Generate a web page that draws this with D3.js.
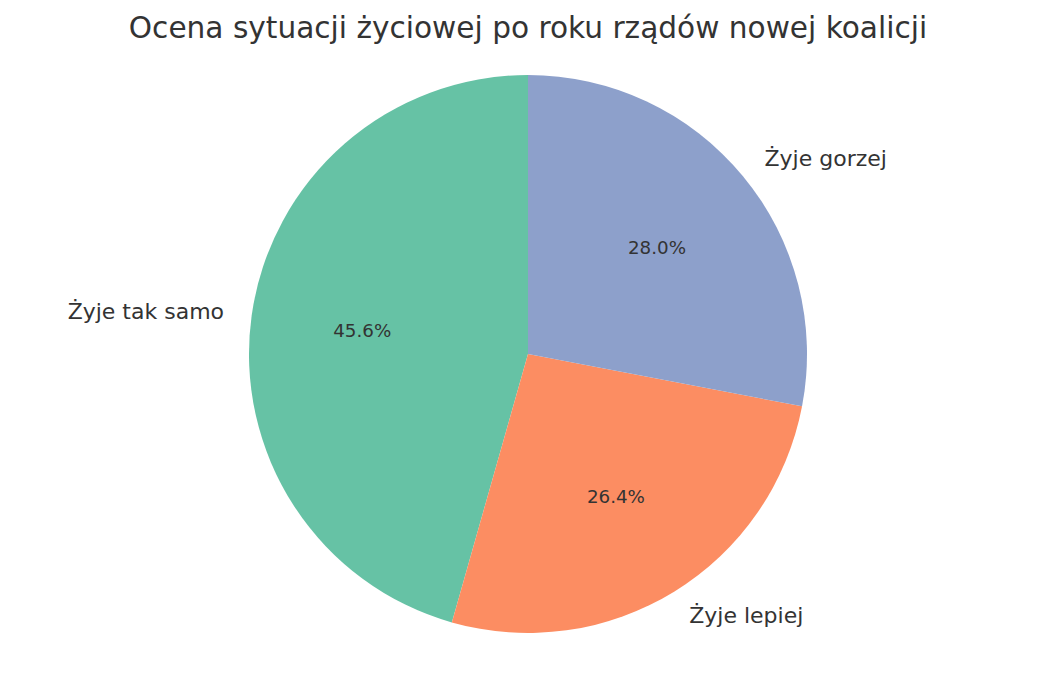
<!DOCTYPE html>
<html lang="pl">
<head>
  <meta charset="UTF-8">
  <title>Ocena sytuacji życiowej</title>
  <script src="https://d3js.org/d3.v7.min.js"></script>
  <style>
    body { margin: 0; background: white; }
    svg { display: block; }
    text { font-family: "DejaVu Sans", sans-serif; fill: #333333; }
  </style>
</head>
<body>
<script>
  // dane z wykresu
  const categories = ["Żyje tak samo", "Żyje lepiej", "Żyje gorzej"];
  const values = [45.6, 26.4, 28.0];
  const colors = ["#66c2a5", "#fc8d62", "#8da0cb"];

  const width = 1056, height = 675;
  const cx = 528, cy = 354, radius = 279;

  const svg = d3.select("body").append("svg")
    .attr("width", width)
    .attr("height", height);

  svg.append("text")
    .attr("x", width / 2)
    .attr("y", 38)
    .attr("text-anchor", "middle")
    .style("font-size", "29.6px")
    .text("Ocena sytuacji życiowej po roku rządów nowej koalicji");

  // start u góry, kierunek przeciwny do ruchu wskazówek (jak matplotlib startangle=90)
  const pie = d3.pie().sort(null).value(d => d)
    .startAngle(0).endAngle(-2 * Math.PI);
  const arcs = pie(values);
  const arc = d3.arc().innerRadius(0).outerRadius(radius);

  const g = svg.append("g").attr("transform", `translate(${cx},${cy})`);

  g.selectAll("path")
    .data(arcs)
    .enter().append("path")
    .attr("d", arc)
    .attr("fill", (d, i) => colors[i]);

  const mid = d => (d.startAngle + d.endAngle) / 2;
  const pos = (d, r) => [r * Math.sin(mid(d)), -r * Math.cos(mid(d))];

  g.selectAll(".pct")
    .data(arcs)
    .enter().append("text")
    .attr("class", "pct")
    .attr("x", d => pos(d, radius * 0.6)[0])
    .attr("y", d => pos(d, radius * 0.6)[1])
    .attr("text-anchor", "middle")
    .attr("dominant-baseline", "central")
    .style("font-size", "18.3px")
    .text(d => d.value.toFixed(1) + "%");

  g.selectAll(".lbl")
    .data(arcs)
    .enter().append("text")
    .attr("class", "lbl")
    .attr("x", d => pos(d, radius * 1.1)[0])
    .attr("y", d => pos(d, radius * 1.1)[1])
    .attr("text-anchor", d => pos(d, 1)[0] > 0 ? "start" : "end")
    .attr("dominant-baseline", "central")
    .style("font-size", "22px")
    .text((d, i) => categories[i]);
</script>
</body>
</html>
